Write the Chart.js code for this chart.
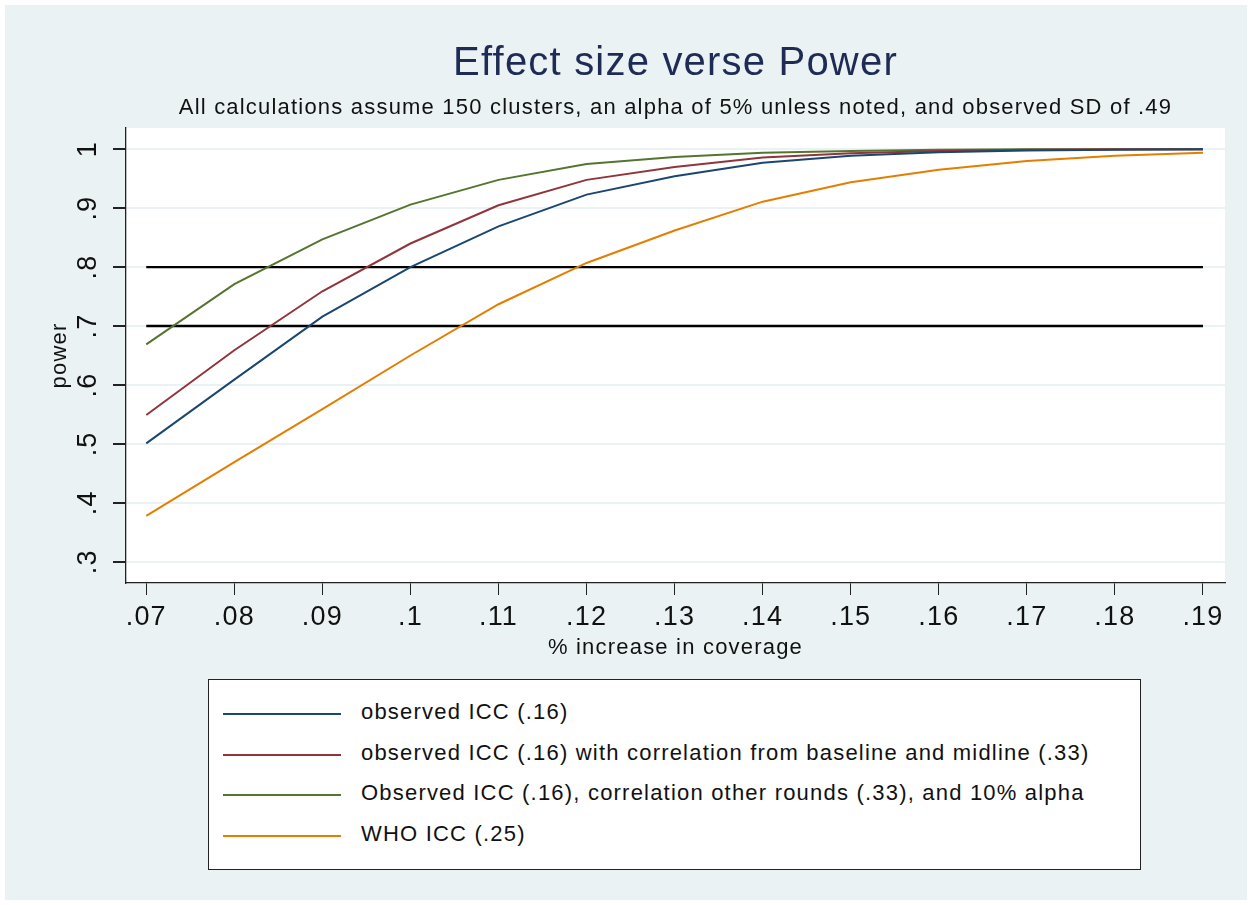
<!DOCTYPE html>
<html>
<head>
<meta charset="utf-8">
<script src="https://cdn.jsdelivr.net/npm/chart.js@4.4.1/dist/chart.umd.min.js"></script>
<style>
  body { margin: 0; background: #fff; font-family: "Liberation Sans", Arial, sans-serif; }
  #wrap { position: relative; width: 1252px; height: 905px; }
  #legend {
    position: absolute; left: 208px; top: 679px; width: 931px; height: 189px;
    background: #fff; border: 1px solid #222;
  }
  .item { position: absolute; left: 0; height: 30px; font-size: 22px; letter-spacing: 1.2px; color: #111; }
  .item span.swatch { position: absolute; left: 14px; width: 118px; height: 0; top: 15px; border-top: 2px solid; }
  .item span.label { position: absolute; left: 152px; top: 1px; white-space: nowrap; }
</style>
</head>
<body>
<div id="wrap">
  <canvas id="chart" width="1252" height="905"></canvas>
  <div id="legend"></div>
</div>
<script>
// effect size (x) and power for each scenario
const effectSizes = [0.07, 0.08, 0.09, 0.10, 0.11, 0.12, 0.13, 0.14, 0.15, 0.16, 0.17, 0.18, 0.19];
const powerObserved = [0.501, 0.609, 0.716, 0.800, 0.869, 0.923, 0.954, 0.977, 0.989, 0.995, 0.998, 0.999, 1.000];
const powerBaseMid = [0.549, 0.659, 0.759, 0.840, 0.905, 0.948, 0.970, 0.986, 0.993, 0.997, 0.999, 1.000, 1.000];
const powerAlpha10 = [0.669, 0.771, 0.847, 0.906, 0.948, 0.975, 0.987, 0.994, 0.997, 0.999, 1.000, 1.000, 1.000];
const powerWHO = [0.378, 0.469, 0.559, 0.650, 0.737, 0.807, 0.862, 0.911, 0.944, 0.965, 0.980, 0.989, 0.994];
const referencePower = [0.8, 0.7];

const seriesNames = [
  'observed ICC (.16)',
  'observed ICC (.16) with correlation from baseline and midline (.33)',
  'Observed ICC (.16), correlation other rounds (.33), and 10% alpha',
  'WHO ICC (.25)'
];
const seriesColors = ['#1a476f', '#90353b', '#55752f', '#e37e00'];

const xTicks = [0.07, 0.08, 0.09, 0.10, 0.11, 0.12, 0.13, 0.14, 0.15, 0.16, 0.17, 0.18, 0.19];
const xTickLabels = ['.07', '.08', '.09', '.1', '.11', '.12', '.13', '.14', '.15', '.16', '.17', '.18', '.19'];
const yTicks = [0.3, 0.4, 0.5, 0.6, 0.7, 0.8, 0.9, 1.0];
const yTickLabels = ['.3', '.4', '.5', '.6', '.7', '.8', '.9', '1'];

const toPoints = ys => ys.map((y, i) => ({ x: effectSizes[i], y: y }));

const datasets = [powerObserved, powerBaseMid, powerAlpha10, powerWHO].map((ys, i) => ({
  label: seriesNames[i],
  data: toPoints(ys),
  borderColor: seriesColors[i],
  borderWidth: 2,
  pointRadius: 0,
  showInLegend: true
}));

// horizontal reference lines at .8 and .7
referencePower.forEach(p => {
  datasets.push({
    label: 'ref ' + p,
    data: [{ x: effectSizes[0], y: p }, { x: effectSizes[effectSizes.length - 1], y: p }],
    borderColor: '#000',
    borderWidth: 2.4,
    pointRadius: 0,
    showInLegend: false
  });
});

const background = {
  id: 'background',
  beforeDraw(chart) {
    const ctx = chart.ctx;
    const a = chart.chartArea;
    ctx.fillStyle = '#eaf2f3';
    ctx.fillRect(5, 5, chart.width - 10, chart.height - 10);
    ctx.fillStyle = '#fff';
    ctx.fillRect(a.left, a.top, a.right - a.left, a.bottom - a.top);
    // Stata spaces its glyphs a little wider
    ctx.letterSpacing = '1.2px';
  }
};

const font = '"Liberation Sans", Arial, sans-serif';

const chart = new Chart(document.getElementById('chart'), {
  type: 'line',
  data: { datasets: datasets },
  options: {
    responsive: false,
    animation: false,
    layout: { padding: { left: 5, top: 5, right: 27, bottom: 242 } },
    plugins: {
      legend: { display: false },
      tooltip: { enabled: false },
      title: {
        display: true,
        fullSize: false,
        text: 'Effect size verse Power',
        color: '#1e2b55',
        font: { family: font, size: 40, weight: 'normal' },
        padding: { top: 35, bottom: 0 }
      },
      subtitle: {
        display: true,
        fullSize: false,
        text: 'All calculations assume 150 clusters, an alpha of 5% unless noted, and observed SD of .49',
        color: '#111',
        font: { family: font, size: 22 },
        padding: { top: 7, bottom: 6.6 }
      }
    },
    scales: {
      x: {
        type: 'linear',
        min: 0.0677,
        max: 0.1925,
        afterBuildTicks: s => { s.ticks = xTicks.map(v => ({ value: v })); },
        afterFit: s => { s.height = 80; },
        ticks: {
          color: '#111',
          font: { family: font, size: 27 },
          padding: 6,
          maxRotation: 0,
          autoSkip: false,
          callback: (v, i) => xTickLabels[i]
        },
        grid: { drawOnChartArea: false, drawTicks: true, tickLength: 12, tickColor: '#222' },
        border: { display: true, color: '#222', width: 1.3 },
        title: {
          display: true,
          text: '% increase in coverage',
          color: '#111',
          font: { family: font, size: 22 },
          padding: { top: 0, bottom: 2 }
        }
      },
      y: {
        min: 0.264,
        max: 1.036,
        afterBuildTicks: s => { s.ticks = yTicks.map(v => ({ value: v })); },
        afterFit: s => { s.width = 121; },
        ticks: {
          color: '#111',
          font: { family: font, size: 27 },
          padding: 13,
          minRotation: 90,
          maxRotation: 90,
          crossAlign: 'center',
          autoSkip: false,
          callback: (v, i) => yTickLabels[i]
        },
        grid: { color: '#eaf2f3', lineWidth: 2, drawTicks: true, tickLength: 13, tickColor: '#222' },
        border: { display: true, color: '#222', width: 1.3 },
        title: {
          display: true,
          text: 'power',
          color: '#111',
          font: { family: font, size: 22 },
          padding: { top: 42, bottom: 0 }
        }
      }
    }
  },
  plugins: [background]
});

// legend box below the plot, built from the datasets
const legendBox = document.getElementById('legend');
chart.data.datasets.filter(d => d.showInLegend).forEach((d, i) => {
  const item = document.createElement('div');
  item.className = 'item';
  item.style.top = (18 + i * 40.5) + 'px';
  item.style.width = '100%';
  const sw = document.createElement('span');
  sw.className = 'swatch';
  sw.style.borderTopColor = d.borderColor;
  const lb = document.createElement('span');
  lb.className = 'label';
  lb.textContent = d.label;
  item.appendChild(sw);
  item.appendChild(lb);
  legendBox.appendChild(item);
});
</script>
</body>
</html>
